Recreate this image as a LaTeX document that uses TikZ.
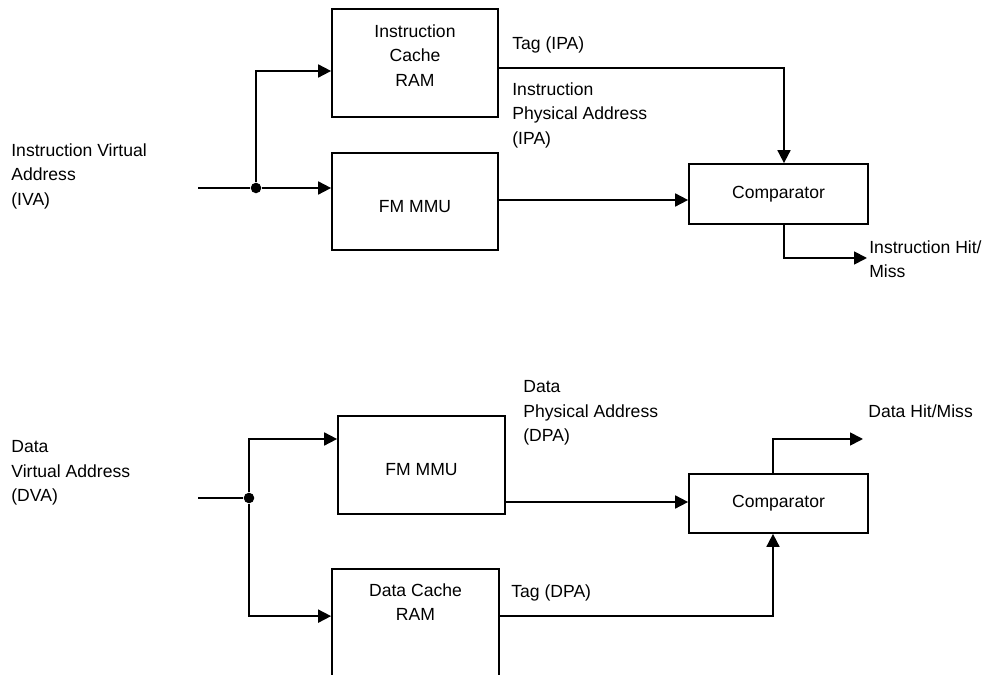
\documentclass[tikz,border=0pt]{standalone}
\usepackage{fontspec}
\setmainfont{Liberation Sans}
\usetikzlibrary{arrows.meta,calc}
\tikzset{
    blk/.style={draw, line width=1pt, align=center, font={\fontsize{10pt}{14pt}\selectfont}},
    txt/.style={anchor=north west, inner sep=0pt, align=left, font={\fontsize{10pt}{14pt}\selectfont}},
    sig/.style={line width=1pt},
    arr/.style={sig, -{Triangle[length=7.4pt,width=7.4pt]}},
    jdot/.style={circle, fill, inner sep=0pt, minimum size=6pt}
}

\begin{document}
\begin{tikzpicture}[x=0.02cm, y=-0.02cm]
    \path[use as bounding box, clip] (0,0) rectangle (985,675);
    % instruction side
    \node[blk, minimum width=3.32cm, minimum height=2.16cm, text depth=8.7pt] (icache) at (415,63) {Instruction\\Cache\\RAM};
    \node[blk, minimum width=3.32cm, minimum height=1.94cm, text height=12.5pt, text depth=0pt] (immu) at (415,201.5) {FM MMU};
    \node[blk, minimum width=3.58cm, minimum height=1.2cm] (icomp) at (778.5,194) {Comparator};
    \node[jdot] (idot) at (256,188) {};
    \coordinate (ivain) at (198,188);
    \coordinate (ihit) at (867,258);
    \draw[sig] (ivain) -- (idot);
    \draw[arr] (idot) -- (idot -| immu.west);
    \draw[arr] (idot) |- ($(icache.west)+(0,8)$);
    \draw[arr] ($(icache.east)+(0,5)$) -| ($(icomp.north)+(5.5,0)$);
    \draw[arr] ($(immu.east)+(0,-1.5)$) coordinate (ipa) -- (ipa -| icomp.west);
    \draw[arr] ($(icomp.south)+(5.5,0)$) |- (ihit);
    \node[txt] (ivalbl) at (11,143.3) {Instruction Virtual\\Address\\(IVA)};
    \node[txt] (itag) at (512,36.3) {Tag (IPA)};
    \node[txt] (ipalbl) at (512,82.3) {Instruction\\Physical Address\\(IPA)};
    \node[txt] (ihitlbl) at (869,240.3) {Instruction Hit/\\Miss};
    % data side
    \node[blk, minimum width=3.34cm, minimum height=1.96cm, text height=12.5pt, text depth=0pt] (dmmu) at (421.5,465) {FM MMU};
    \node[blk, minimum width=3.34cm, minimum height=2.42cm, text depth=31pt] (dcache) at (415.5,629.5) {Data Cache\\RAM};
    \node[blk, minimum width=3.58cm, minimum height=1.18cm] (dcomp) at (778.5,503.5) {Comparator};
    \node[jdot] (ddot) at (249,498) {};
    \coordinate (dvain) at (198,498);
    \coordinate (dhit) at (863,439);
    \draw[sig] (dvain) -- (ddot);
    \draw[arr] (ddot) |- ($(dmmu.west)+(0,-26)$);
    \draw[arr] (ddot) |- ($(dcache.north west)+(0,48)$);
    \draw[arr] ($(dmmu.east)+(0,37)$) coordinate (dpa) -- (dpa -| dcomp.west);
    \draw[arr] ($(dcache.north east)+(0,48)$) -| ($(dcomp.south)+(-5.5,0)$);
    \draw[arr] ($(dcomp.north)+(-5.5,0)$) |- (dhit);
    \node[txt] (dvalbl) at (11,440.3) {Data\\Virtual Address\\(DVA)};
    \node[txt] (dpalbl) at (523,380.3) {Data\\Physical Address\\(DPA)};
    \node[txt] (dhitlbl) at (868,404.3) {Data Hit/Miss};
    \node[txt] (dtag) at (511,584.3) {Tag (DPA)};
\end{tikzpicture}
\end{document}
